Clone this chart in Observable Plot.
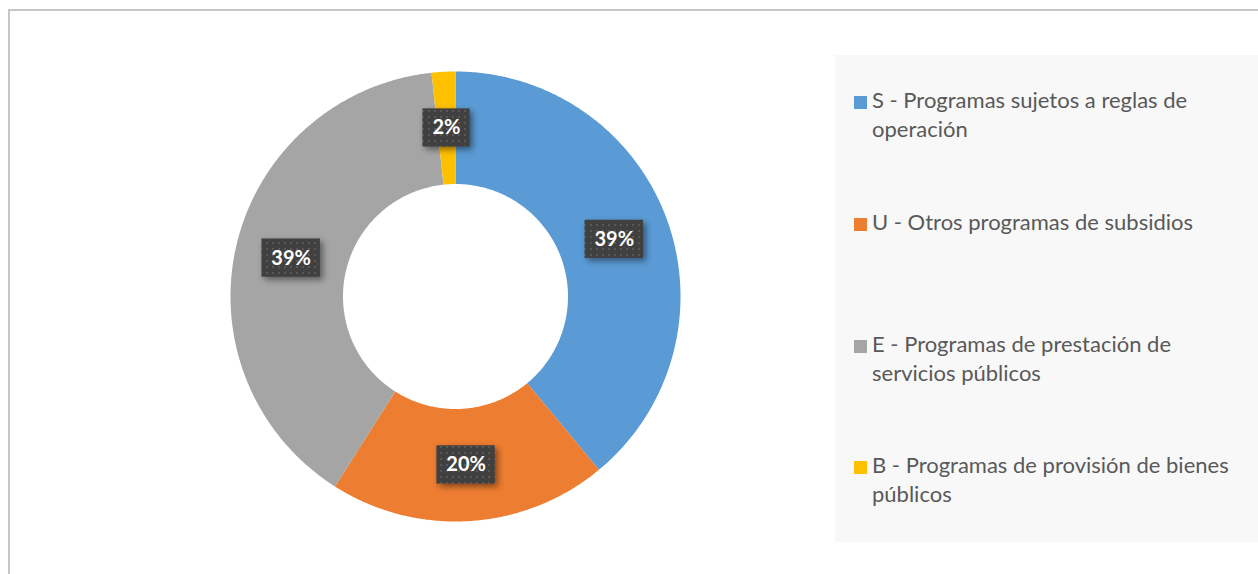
<!DOCTYPE html>
<html>
<head>
<meta charset="utf-8">
<script src="https://cdn.jsdelivr.net/npm/d3@7"></script>
<script src="https://cdn.jsdelivr.net/npm/@observablehq/plot@0.6"></script>
<style>
  html, body { margin: 0; padding: 0; background: #fff; }
  #wrap { position: relative; width: 1258px; height: 574px; overflow: hidden; font-family: Lato, "Open Sans", sans-serif; }
  #frame { position: absolute; left: 8px; top: 9px; width: 1400px; height: 700px; border-left: 2px solid #c6c6c6; border-top: 2px solid #c6c6c6; box-sizing: border-box; }
  #chart { position: absolute; left: 0; top: 0; }
  #legend { position: absolute; left: 835px; top: 55px; width: 430px; height: 487px; background: #f8f8f8; }
  .item { position: absolute; left: 37px; font-size: 22px; line-height: 29px; color: #595959; white-space: nowrap; }
  .sw { position: absolute; left: 19px; width: 13px; height: 13px; }
</style>
</head>
<body>
<div id="wrap">
  <div id="frame"></div>
  <div id="chart"></div>
  <div id="legend"></div>
</div>
<script>
// ---- data ----
const codes = ["S", "U", "E", "B"];
const categories = [
  "S - Programas sujetos a reglas de operación",
  "U - Otros programas de subsidios",
  "E - Programas de prestación de servicios públicos",
  "B - Programas de provisión de bienes públicos"
];
const legendLines = [
  ["S - Programas sujetos a reglas de", "operación"],
  ["U - Otros programas de subsidios"],
  ["E - Programas de prestación de", "servicios públicos"],
  ["B - Programas de provisión de bienes", "públicos"]
];
const values = [39.0, 20.0, 39.3, 1.7];
const labels = ["39%", "20%", "39%", "2%"];
const colors = ["#5B9BD5", "#ED7D31", "#A5A5A5", "#FFC000"];

// ---- geometry built from values ----
const innerR = 0.5, outerR = 1;
const pie = d3.pie().sort(null).value(d => d)(values);
const polys = [];
pie.forEach((p, i) => {
  const a0 = p.startAngle, a1 = p.endAngle;
  const n = Math.max(2, Math.ceil((a1 - a0) / (Math.PI / 360)));
  for (let k = 0; k <= n; k++) {
    const a = a0 + (a1 - a0) * k / n;
    polys.push({key: codes[i], x: outerR * Math.sin(a), y: outerR * Math.cos(a)});
  }
  for (let k = n; k >= 0; k--) {
    const a = a0 + (a1 - a0) * k / n;
    polys.push({key: codes[i], x: innerR * Math.sin(a), y: innerR * Math.cos(a)});
  }
});
const midR = (innerR + outerR) / 2;
const labelData = pie.map((p, i) => {
  const a = (p.startAngle + p.endAngle) / 2;
  return {key: codes[i], label: labels[i], x: midR * Math.sin(a), y: midR * Math.cos(a), hw: labels[i].length === 2 ? 0.105 : 0.13, hh: 0.085};
});

const plot = Plot.plot({
  width: 1258,
  height: 574,
  margin: 0,
  x: {domain: [-1, 1], range: [230, 680], axis: null},
  y: {domain: [-1, 1], range: [521, 71], axis: null},
  color: {domain: codes, range: colors},
  style: {background: "transparent", overflow: "visible"},
  marks: [
    Plot.line(polys, {x: "x", y: "y", z: "key", fill: "key", stroke: "none", curve: "linear-closed"}),
    Plot.rect(labelData, {
      x1: d => d.x - d.hw, x2: d => d.x + d.hw,
      y1: d => d.y - d.hh, y2: d => d.y + d.hh,
      fill: "url(#dotpat)", className: "lbox"
    }),
    Plot.text(labelData, {x: "x", y: "y", text: "label", fill: "white", fontSize: 20, fontWeight: "bold", fontFamily: "Lato, 'Open Sans', sans-serif"})
  ]
});
const svg = d3.select(plot);
const defs = svg.insert("defs", ":first-child");
const pat = defs.append("pattern").attr("id", "dotpat").attr("patternUnits", "userSpaceOnUse").attr("width", 6).attr("height", 6);
pat.append("rect").attr("width", 6).attr("height", 6).attr("fill", "#404040");
pat.append("rect").attr("x", 2).attr("y", 2).attr("width", 2).attr("height", 2).attr("fill", "#575757");
svg.selectAll(".lbox rect").style("filter", "drop-shadow(3px 3px 3px rgba(0,0,0,0.45))");
document.getElementById("chart").appendChild(plot);

// ---- legend ----
const legend = document.getElementById("legend");
const baselines = [53, 175, 297, 418];
legendLines.forEach((lines, i) => {
  const sw = document.createElement("div");
  sw.className = "sw";
  sw.style.top = (baselines[i] - 12) + "px";
  sw.style.background = colors[i];
  legend.appendChild(sw);
  const t = document.createElement("div");
  t.className = "item";
  t.style.top = (baselines[i] - 23) + "px";
  t.innerHTML = lines.join("<br>");
  t.title = categories[i];
  legend.appendChild(t);
});
</script>
</body>
</html>
